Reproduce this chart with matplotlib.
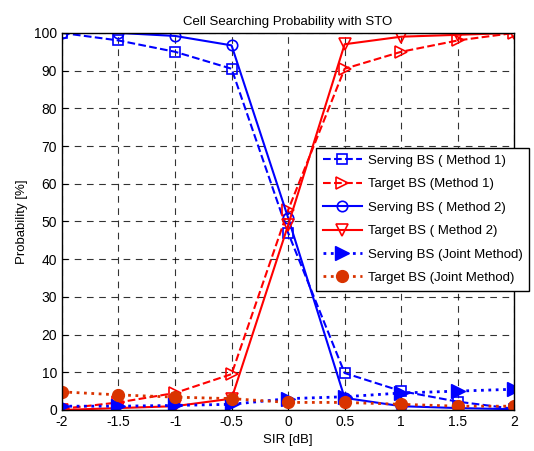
import matplotlib
matplotlib.use("Agg")
import matplotlib.pyplot as plt

plt.rcParams['font.family'] = ['Liberation Sans', 'DejaVu Sans']

sir = [-2, -1.5, -1, -0.5, 0, 0.5, 1, 1.5, 2]
serving_m1 = [100, 98, 95, 90.5, 47, 9.8, 5, 2.2, 0.3]
target_m1 = [0.3, 2, 4.5, 9.5, 53, 90.5, 95, 98, 100]
serving_m2 = [100, 100, 99.2, 96.7, 51, 3.2, 1, 0.5, 0.2]
target_m2 = [0, 0.5, 1, 3, 49, 97, 99, 99.5, 100]
serving_joint = [1, 1, 1.2, 1.5, 3, 3.5, 4.5, 5, 5.5]
target_joint = [4.8, 4, 3.4, 3, 2, 2, 1.5, 1, 1]

labels = ['Serving BS ( Method 1)', 'Target BS (Method 1)', 'Serving BS ( Method 2)',
          'Target BS ( Method 2)', 'Serving BS (Joint Method)', 'Target BS (Joint Method)']

fig = plt.figure(figsize=(5.34, 4.51), dpi=100)
ax = fig.add_axes([0.116, 0.091, 0.847, 0.836])

blue = (0, 0, 1)
red = (1, 0, 0)
orange = (0.85, 0.2, 0.0)
lw = 1.5
ax.plot(sir, serving_m1, '--', color=blue, lw=lw, marker='s', ms=7.5, mfc='none', mew=1.2, label=labels[0])
ax.plot(sir, target_m1, '--', color=red, lw=lw, marker='>', ms=8.5, mfc='none', mew=1.2, label=labels[1])
ax.plot(sir, serving_m2, '-', color=blue, lw=lw, marker='o', ms=7.5, mfc='none', mew=1.2, label=labels[2])
ax.plot(sir, target_m2, '-', color=red, lw=lw, marker='v', ms=8.5, mfc='none', mew=1.2, label=labels[3])
ax.plot(sir, serving_joint, ':', color=blue, lw=2, marker='>', ms=10, mfc=blue, mec=blue, label=labels[4])
ax.plot(sir, target_joint, ':', color=orange, lw=2, marker='o', ms=8.5, mfc=orange, mec=orange, label=labels[5])

ax.set_xlim(-2, 2)
ax.set_ylim(0, 100)
ax.set_xticks([-2, -1.5, -1, -0.5, 0, 0.5, 1, 1.5, 2])
ax.set_xticklabels(['-2', '-1.5', '-1', '-0.5', '0', '0.5', '1', '1.5', '2'])
ax.set_yticks(range(0, 101, 10))
ax.tick_params(labelsize=10, direction='in', length=4)
ax.grid(True, color='black', linestyle=(0, (6, 5)), lw=0.8, alpha=0.8)
for s in ax.spines.values():
    s.set_linewidth(1.0)

ax.set_xlabel('SIR [dB]', fontsize=9.5)
ax.set_ylabel('Probability [%]', fontsize=9.5)
ax.set_title('Cell Searching Probability with STO', fontsize=9.5)

leg = ax.legend(loc='upper left', bbox_to_anchor=(316/534, 1 - 148/451), bbox_transform=fig.transFigure,
                fontsize=9.5, fancybox=False, framealpha=1, edgecolor='black', handlelength=3.0,
                handletextpad=0.45, borderpad=0.5, labelspacing=0.85, borderaxespad=0)
leg.get_frame().set_linewidth(1.0)

fig.savefig('out.png', dpi=100)
